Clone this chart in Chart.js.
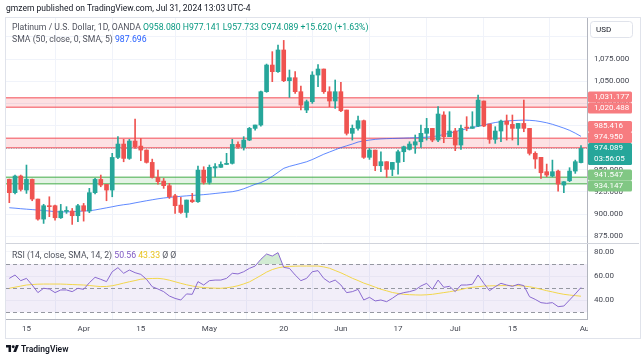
<!DOCTYPE html>
<html>
<head>
<meta charset="utf-8">
<script src="https://cdn.jsdelivr.net/npm/chart.js@4.4.1/dist/chart.umd.min.js"></script>
<style>
  body { margin: 0; background: #fff; width: 643px; height: 361px; overflow: hidden; position: relative; font-family: Roboto, "Open Sans", sans-serif; }
  #c { position: absolute; left: 0; top: 0; }
  .t { position: absolute; white-space: nowrap; font-size: 8.7px; line-height: 10px; color: #131722; }
  .g { color: #50535e; }
  .frame { position: absolute; left: 5px; top: 17px; width: 634px; height: 320px; border: 1px solid #e0e3eb; pointer-events: none; }
</style>
</head>
<body>
<canvas id="c" width="643" height="361"></canvas>
<div class="frame"></div>
<div class="t" style="left:6px;top:3px;font-size:8.5px;">gmzern published on TradingView.com, Jul 31, 2024 13:03 UTC-4</div>
<div class="t" style="left:12px;top:22px;"><span class="g">Platinum / U.S. Dollar, 1D, OANDA</span>
  <span style="color:#089981">O958.080 H977.141 L957.733 C974.089 +15.620 (+1.63%)</span></div>
<div class="t" style="left:12px;top:34px;"><span class="g">SMA (50, close, 0, SMA, 5)</span> <span style="color:#2962ff">987.696</span></div>
<div class="t" style="left:12px;top:250px;"><span class="g">RSI (14, close, SMA, 14, 2)</span>
  <span style="color:#7e57c2">50.56</span> <span style="color:#e8c21a">43.33</span> <span class="g">Ø Ø</span></div>
<div class="t" style="left:6px;top:344px;font-size:8.5px;font-weight:600;">
  <svg width="13" height="9" viewBox="0 0 36 24" style="vertical-align:-1px"><path d="M14 22H7V9H0V2h14v20zM28 22h-8l7.5-20h8L28 22z" fill="#131722"/><circle cx="20" cy="7" r="4" fill="#131722"/></svg>
  TradingView</div>

<script>
// daily candles, Mar 12 - Jul 31 2024 (index 0 = Mar 12)
const opens = [939.1, 924.1, 942.9, 927.1, 939.1, 916.9, 894.3, 909.4, 909.4, 895.8,
  903.0, 903.4, 898.1, 909.4, 903.4, 924.1, 939.1, 933.5, 927.1, 963.9,
  979.0, 962.8, 982.4, 976.7, 972.2, 958.3, 941.4, 937.2, 932.0, 920.6,
  910.1, 901.8, 915.8, 913.9, 949.6, 935.7, 952.0, 952.7, 956.0, 957.2,
  978.6, 975.2, 983.5, 996.7, 1000.5, 1038.1, 1068.2, 1060.7, 1085.2, 1050.5,
  1053.9, 1038.1, 1017.4, 1026.8, 1056.9, 1063.7, 1038.1, 1027.6, 1038.1, 1017.4,
  991.1, 996.7, 1005.4, 964.0, 972.2, 954.5, 959.1, 950.4, 958.3, 970.3,
  973.0, 977.9, 981.6, 991.1, 996.7, 983.5, 1011.8, 987.3, 993.7, 977.9,
  998.0, 996.7, 999.3, 1027.6, 1001.6, 984.3, 993.7, 1005.0, 1001.2, 996.7,
  1002.3, 996.7, 968.5, 964.0, 947.8, 942.9, 948.5, 932.7, 937.6, 948.5,
  958.08];
const highs = [939.5, 944.0, 944.0, 955.3, 939.5, 917.0, 911.0, 919.5, 910.0, 910.9,
  908.3, 906.3, 910.9, 912.0, 929.0, 940.2, 944.0, 933.5, 968.5, 987.3,
  984.3, 984.3, 1007.2, 985.4, 972.5, 962.0, 949.6, 940.2, 934.6, 922.2,
  918.8, 915.8, 923.3, 954.2, 953.4, 955.3, 957.0, 959.0, 968.5, 984.3,
  981.6, 987.3, 997.8, 1000.5, 1038.8, 1069.3, 1083.3, 1090.8, 1096.0, 1062.6,
  1060.7, 1044.5, 1028.7, 1060.7, 1068.6, 1063.7, 1043.7, 1051.3, 1048.6, 1017.4,
  1000.5, 1010.6, 1006.1, 974.1, 972.2, 970.3, 959.1, 958.3, 972.2, 976.7,
  981.6, 989.2, 1000.5, 1008.0, 996.7, 1021.2, 1015.5, 1015.5, 996.7, 1000.5,
  1009.9, 1015.5, 1034.3, 1027.6, 1001.6, 998.6, 1006.1, 1011.8, 1011.8, 1002.3,
  1028.7, 996.7, 970.3, 964.0, 956.4, 960.9, 949.6, 936.5, 952.3, 960.9,
  977.141];
const lows = [912.8, 922.6, 926.0, 923.3, 915.0, 893.2, 889.4, 897.0, 893.0, 895.0,
  900.7, 888.3, 891.3, 892.0, 901.5, 922.6, 930.8, 915.0, 919.5, 962.5,
  959.0, 961.7, 974.1, 960.2, 957.5, 940.6, 933.8, 929.0, 917.6, 900.7,
  900.7, 896.2, 913.0, 913.0, 933.8, 933.8, 942.0, 952.7, 956.0, 956.4,
  974.1, 972.2, 982.8, 994.8, 999.3, 1037.4, 1049.4, 1059.9, 1049.4, 1031.7,
  1036.2, 1017.4, 1014.4, 1024.9, 1043.7, 1036.2, 1021.2, 1019.3, 1015.5, 989.2,
  983.5, 994.8, 962.8, 961.7, 948.9, 947.8, 941.4, 943.3, 945.1, 959.1,
  972.2, 968.5, 975.2, 983.5, 981.6, 981.6, 980.5, 987.3, 971.5, 973.0,
  994.0, 996.7, 998.6, 998.6, 979.8, 979.8, 981.6, 983.5, 983.5, 977.9,
  992.9, 966.6, 951.5, 940.2, 942.1, 942.1, 925.9, 924.0, 936.5, 945.9,
  957.733];
const closes = [924.1, 942.9, 927.8, 939.1, 916.9, 894.3, 909.4, 908.3, 895.8, 903.4,
  903.8, 898.1, 909.4, 903.4, 924.1, 939.1, 932.7, 927.1, 963.9, 979.0,
  962.8, 982.4, 976.0, 972.2, 958.3, 941.4, 936.5, 932.0, 919.5, 909.4,
  901.8, 915.8, 913.9, 949.6, 935.7, 952.7, 953.5, 956.0, 957.2, 978.6,
  976.0, 983.5, 996.7, 1000.5, 1038.1, 1068.2, 1060.7, 1085.2, 1050.5, 1053.9,
  1038.1, 1023.0, 1026.8, 1056.9, 1063.7, 1038.1, 1027.6, 1038.1, 1016.6, 991.1,
  996.7, 1005.4, 964.0, 972.2, 954.5, 959.1, 950.4, 958.3, 970.3, 976.0,
  979.0, 981.6, 991.1, 996.7, 983.5, 1012.9, 987.3, 993.7, 977.9, 996.7,
  997.0, 998.6, 1028.7, 999.3, 984.3, 993.7, 1005.0, 1001.2, 996.7, 1002.3,
  996.7, 968.5, 962.1, 946.6, 944.0, 947.8, 933.8, 936.5, 948.5, 959.1,
  974.089];
const sma50 = [907.1, 906.6, 906.0, 905.5, 905.0, 904.5, 904.0, 903.4, 902.6, 902.4,
  902.4, 902.6, 903.0, 903.5, 903.7, 904.6, 905.8, 907.0, 908.2, 909.5,
  910.5, 911.3, 912.6, 913.8, 915.0, 916.1, 917.2, 918.1, 918.8, 919.4,
  920.0, 920.5, 921.0, 921.4, 921.9, 922.5, 923.2, 923.9, 924.6, 925.2,
  926.5, 928.5, 931.0, 933.5, 935.5, 938.5, 942.5, 947.0, 951.6, 953.8,
  955.5, 957.2, 959.0, 961.5, 964.5, 967.5, 970.0, 972.5, 975.0, 977.0,
  979.0, 981.3, 982.5, 983.5, 984.3, 984.8, 985.1, 985.3, 985.5, 985.7,
  985.9, 986.1, 986.4, 986.8, 987.4, 988.3, 989.8, 991.3, 993.0, 994.7,
  996.2, 997.7, 999.0, 1000.5, 1002.0, 1003.3, 1004.3, 1005.0, 1005.5, 1005.8,
  1006.0, 1005.8, 1005.3, 1004.3, 1003.0, 1001.3, 999.2, 997.0, 994.5, 991.3,
  987.696];
const rsi = [58.1, 60.9, 56.2, 58.1, 52.6, 46.3, 49.9, 49.3, 46.3, 48.5,
  48.5, 47.1, 49.9, 49.0, 54.5, 59.0, 57.3, 55.4, 63.6, 67.0,
  62.3, 65.0, 62.8, 61.4, 57.3, 51.2, 49.3, 47.1, 43.5, 41.5,
  40.2, 45.2, 44.9, 55.4, 52.6, 56.2, 56.7, 56.7, 58.1, 62.3,
  61.8, 63.6, 66.4, 68.3, 73.9, 78.3, 76.6, 79.4, 67.2, 66.4,
  60.9, 56.2, 58.1, 63.6, 64.5, 58.1, 54.8, 56.7, 52.6, 46.3,
  47.1, 49.0, 40.2, 42.4, 39.4, 40.2, 38.8, 41.6, 44.9, 46.3,
  47.1, 48.5, 51.8, 54.0, 49.0, 56.7, 50.7, 51.5, 47.1, 52.6,
  52.6, 53.2, 60.9, 54.0, 47.9, 51.2, 54.0, 52.6, 51.5, 53.2,
  52.1, 42.9, 40.7, 38.0, 37.4, 38.0, 34.7, 35.2, 40.2, 45.2,
  50.56];
const rsiSma = [49.9, 50.8, 51.7, 52.6, 53.0, 53.3, 53.4, 53.4, 53.4, 53.4,
  53.2, 53.0, 52.8, 52.6, 52.2, 51.7, 51.3, 51.4, 52.0, 53.0,
  54.2, 55.3, 56.3, 57.4, 57.8, 58.0, 58.1, 57.6, 56.6, 55.3,
  54.0, 52.8, 51.8, 51.0, 50.5, 50.2, 50.0, 49.9, 50.3, 51.0,
  52.0, 53.5, 55.2, 57.8, 60.5, 63.3, 65.4, 66.8, 67.7, 68.0,
  68.2, 68.3, 68.3, 68.3, 68.3, 67.6, 66.5, 64.6, 62.7, 60.5,
  58.2, 56.3, 54.2, 52.6, 50.8, 49.1, 47.8, 46.4, 45.6, 44.9,
  44.6, 44.4, 44.3, 44.5, 44.9, 45.6, 46.3, 47.0, 47.9, 48.8,
  50.0, 50.7, 51.2, 51.7, 51.9, 52.0, 52.1, 52.1, 52.1, 52.1,
  51.7, 51.2, 50.2, 49.1, 47.9, 46.9, 45.8, 44.9, 44.3, 43.8,
  43.33];

const xTickIdx = [3, 13, 23, 35, 48, 58, 68, 78, 88, 101];
const xTickText = ['15', 'Apr', '15', 'May', '20', 'Jun', '17', 'Jul', '15', 'Aug'];
const priceTicks = [875, 900, 925, 950, 975, 1000, 1025, 1050, 1075, 1100];
const rsiTicks = [40, 60, 80];
const redZones = [[1020.488, 1031.177], [974.950, 985.416]];
const greenZones = [[934.147, 941.547]];
const lastPrice = 974.089;
const countdown = '03:56:05';

const UP = '#26a69a', DOWN = '#ef5350';
const candleColors = closes.map((c, i) => c >= opens[i] ? UP : DOWN);

function fmtPrice(v) {
  return v.toLocaleString('en-US', { minimumFractionDigits: 3, maximumFractionDigits: 3 });
}

Chart.defaults.font.family = 'Roboto, "Open Sans", sans-serif';
Chart.defaults.font.size = 8;
Chart.defaults.color = '#434651';

const panes = {
  id: 'panes',
  beforeDatasetsDraw(chart) {
    const { ctx, chartArea: a, scales } = chart;
    const y = scales.y, yr = scales.yRsi;
    ctx.save();
    // rsi band + levels
    const r70 = yr.getPixelForValue(70), r30 = yr.getPixelForValue(30);
    ctx.fillStyle = 'rgba(126,87,194,0.1)';
    ctx.fillRect(a.left, r70, a.width, r30 - r70);
    ctx.strokeStyle = '#9598a1';
    ctx.lineWidth = 1;
    ctx.setLineDash([4, 3]);
    [70, 50, 30].forEach(v => {
      const p = Math.round(yr.getPixelForValue(v)) + 0.5;
      ctx.beginPath(); ctx.moveTo(a.left, p); ctx.lineTo(a.right, p); ctx.stroke();
    });
    ctx.setLineDash([]);
    // separator between panes
    ctx.strokeStyle = '#d1d4dc';
    ctx.beginPath(); ctx.moveTo(a.left, Math.round(yr.top) + 0.5); ctx.lineTo(639, Math.round(yr.top) + 0.5); ctx.stroke();

    // zones
    function zone(z, fill, line) {
      const t = y.getPixelForValue(z[1]), b = y.getPixelForValue(z[0]);
      ctx.fillStyle = fill;
      ctx.fillRect(a.left, t, a.width, b - t);
      ctx.strokeStyle = line;
      ctx.lineWidth = 1.5;
      [t, b].forEach(p => { ctx.beginPath(); ctx.moveTo(a.left, p); ctx.lineTo(a.right, p); ctx.stroke(); });
    }
    redZones.forEach(z => zone(z, 'rgba(242,54,69,0.15)', 'rgba(242,70,80,0.65)'));
    greenZones.forEach(z => zone(z, 'rgba(76,175,80,0.15)', 'rgba(76,175,80,0.7)'));

    // last price dotted line
    const lp = Math.round(y.getPixelForValue(lastPrice)) + 0.5;
    ctx.strokeStyle = '#a3a6af';
    ctx.lineWidth = 1;
    ctx.setLineDash([1, 1.5]);
    ctx.beginPath(); ctx.moveTo(a.left, lp); ctx.lineTo(a.right, lp); ctx.stroke();
    ctx.restore();
  },
  afterDraw(chart) {
    const { ctx, scales } = chart;
    const y = scales.y;
    ctx.save();
    // hide the part of the last date label under the price scale
    ctx.fillStyle = '#fff';
    ctx.fillRect(588, 320, 51, 17);

    const items = [];
    redZones.forEach(z => { items.push({ v: z[1], bg: '#f77c80' }); items.push({ v: z[0], bg: '#f77c80' }); });
    greenZones.forEach(z => { items.push({ v: z[1], bg: '#81c784' }); items.push({ v: z[0], bg: '#81c784' }); });
    items.forEach(it => { it.h = 11; it.top = y.getPixelForValue(it.v) - 5.5; it.lines = [fmtPrice(it.v)]; });
    items.push({ v: lastPrice, bg: '#26a69a', fixed: true, h: 22, top: y.getPixelForValue(lastPrice) - 5.5, lines: [fmtPrice(lastPrice), countdown] });
    items.sort((p, q) => p.top - q.top);
    for (let pass = 0; pass < 30; pass++) {
      for (let k = 0; k < items.length - 1; k++) {
        const p = items[k], q = items[k + 1];
        const ov = p.top + p.h - q.top;
        if (ov > 0) {
          if (p.fixed) q.top += ov;
          else if (q.fixed) p.top -= ov;
          else { p.top -= ov / 2; q.top += ov / 2; }
        }
      }
    }
    items.forEach(it => {
      ctx.fillStyle = it.bg;
      ctx.beginPath();
      ctx.roundRect(588, it.top, 44, it.h, 1.5);
      ctx.fill();
      ctx.fillStyle = '#fff';
      ctx.font = '8px Roboto, "Open Sans", sans-serif';
      ctx.textBaseline = 'middle';
      it.lines.forEach((s, j) => ctx.fillText(s, 594, it.top + 5.5 + j * 11));
    });

    // currency box
    ctx.fillStyle = '#fff';
    ctx.strokeStyle = '#e0e3eb';
    ctx.beginPath();
    ctx.roundRect(590.5, 21.5, 42, 16, 3);
    ctx.fill(); ctx.stroke();
    ctx.fillStyle = '#131722';
    ctx.textBaseline = 'middle';
    ctx.fillText('USD', 596, 29.5);
    ctx.restore();
  }
};

const fixedWidth = s => { s.width = 53; };

new Chart(document.getElementById('c'), {
  type: 'bar',
  data: {
    datasets: [
      {
        label: 'body',
        data: opens.map((o, i) => ({ x: i, y: [o, closes[i]] })),
        backgroundColor: candleColors,
        barThickness: 4,
        minBarLength: 1,
        grouped: false,
        yAxisID: 'y',
        order: 1
      },
      {
        label: 'wick',
        data: lows.map((l, i) => ({ x: i, y: [l, highs[i]] })),
        backgroundColor: candleColors,
        barThickness: 1,
        grouped: false,
        yAxisID: 'y',
        order: 2
      },
      {
        type: 'line',
        label: 'SMA 50',
        data: sma50.map((v, i) => ({ x: i, y: v })),
        borderColor: 'rgba(41,98,255,0.75)',
        borderWidth: 1,
        pointRadius: 0,
        yAxisID: 'y',
        order: 3
      },
      {
        type: 'line',
        label: 'RSI',
        data: rsi.map((v, i) => ({ x: i, y: v })),
        borderColor: '#8a6ad0',
        borderWidth: 1,
        pointRadius: 0,
        yAxisID: 'yRsi',
        fill: { target: { value: 70 }, above: 'rgba(76,175,80,0.25)', below: 'rgba(0,0,0,0)' },
        order: 0
      },
      {
        type: 'line',
        label: 'RSI SMA',
        data: rsiSma.map((v, i) => ({ x: i, y: v })),
        borderColor: '#f2d64b',
        borderWidth: 1,
        pointRadius: 0,
        yAxisID: 'yRsi',
        order: 1
      }
    ]
  },
  options: {
    responsive: false,
    animation: false,
    layout: { padding: { left: 6, top: 18, right: 3, bottom: 23 } },
    plugins: { legend: { display: false }, tooltip: { enabled: false } },
    scales: {
      x: {
        type: 'linear',
        offset: false,
        min: -0.58,
        max: 101.05,
        afterBuildTicks: s => { s.ticks = xTickIdx.map(v => ({ value: v })); },
        afterFit: s => { s.height = 19; },
        ticks: {
          autoSkip: false,
          maxRotation: 0,
          padding: 5,
          callback: v => xTickText[xTickIdx.indexOf(v)]
        },
        grid: { color: '#f0f3fa', drawTicks: false },
        border: { color: '#b2b5be' }
      },
      y: {
        type: 'linear',
        position: 'right',
        stack: 'pane',
        stackWeight: 225,
        min: 867.3,
        max: 1121.3,
        afterBuildTicks: s => { s.ticks = priceTicks.map(v => ({ value: v })); },
        afterFit: fixedWidth,
        ticks: { padding: 7, callback: v => v >= 1100 ? '' : fmtPrice(v) },
        grid: { color: '#f0f3fa', drawTicks: false },
        border: { color: '#b2b5be' }
      },
      yRsi: {
        type: 'linear',
        position: 'right',
        stack: 'pane',
        stackWeight: 76,
        min: 24.45,
        max: 87.4,
        afterBuildTicks: s => { s.ticks = rsiTicks.map(v => ({ value: v })); },
        afterFit: fixedWidth,
        ticks: { padding: 7, callback: v => v.toFixed(2) },
        grid: { color: '#f4f5f9', drawTicks: false },
        border: { color: '#b2b5be' }
      }
    }
  },
  plugins: [panes]
});
</script>
</body>
</html>
